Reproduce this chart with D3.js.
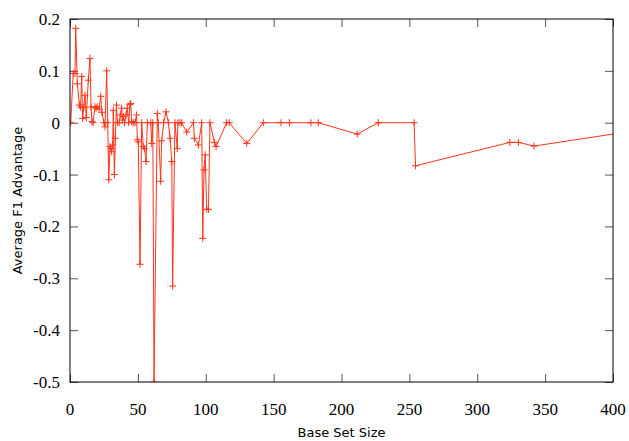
<!DOCTYPE html>
<html>
<head>
<meta charset="utf-8">
<script src="https://cdn.jsdelivr.net/npm/d3@7"></script>
<style>
  body { margin: 0; background: #fff; }
  svg text { font-family: "Liberation Serif", serif; }
</style>
</head>
<body>
<script>
// base set size vs average F1 advantage
var sizes = [0.5, 2.4, 3.7, 4.2, 5.4, 6.9, 7.8, 8.6, 9.3, 10.2, 11, 12, 13.5, 14.7, 15.5, 16.2, 17,
  18.4, 19.2, 20, 21.4, 22.6, 23.5, 25, 25.8, 27, 27.8, 28.5, 29.5, 30.2, 30.7, 31.4, 31.9, 32.7,
  33.4, 34.2, 35, 36.3, 37, 38, 38.6, 39.3, 40.2, 41.3, 42.2, 43.2, 44.2, 44.7, 45.4, 46.6, 47.9,
  49, 49.6, 50.3, 51.6, 52.8, 54, 55, 56, 57, 59.5, 60.2, 61, 61.9, 64.3, 65, 66.8, 67.5, 69, 70.7,
  72.5, 73.7, 75, 75.6, 77.3, 79, 79.5, 81, 82.2, 86, 91, 91.6, 94.6, 97, 97.8, 98.7, 99.6, 100.7,
  102, 103.1, 106.4, 107.6, 115.4, 117.3, 130.2, 142.4, 155.4, 161.6, 177.5, 182.9, 211.6, 227.1,
  253.5, 254.5, 324, 330.3, 341.8, 420];
var advantage = [0, 0.095, 0.095, 0.182, 0.075, 0.034, 0.03, 0.089, 0.008, 0.03, 0.053, 0.01, 0.082,
  0.124, 0.03, 0.002, 0, 0.031, 0.028, 0.031, 0.026, 0.051, 0.02, 0, -0.008, 0.1, 0, -0.11, -0.046,
  -0.05, -0.056, -0.043, 0.024, -0.1, -0.03, 0.034, 0, 0, 0.015, 0.028, 0.005, 0.012, 0, 0.015,
  0.028, 0, 0.035, 0.037, 0.002, 0, 0, 0.015, -0.033, -0.037, -0.273, 0, -0.046, -0.05, -0.075, 0,
  0, -0.04, 0, -0.5, 0.018, 0, -0.113, -0.035, 0, 0.021, 0, -0.03, -0.075, -0.315, 0, -0.05, 0, 0,
  0, -0.018, 0, -0.03, -0.043, 0, -0.223, -0.091, -0.062, -0.167, -0.167, 0, -0.038, -0.046, 0, 0,
  -0.04, 0, 0, 0, 0, 0, -0.022, 0, 0, -0.083, -0.038, -0.038, -0.045, -0.014];
var xTicks = [0, 50, 100, 150, 200, 250, 300, 350, 400];
var yTicks = [0.2, 0.1, 0, -0.1, -0.2, -0.3, -0.4, -0.5];
var yTickLabels = ["0.2", "0.1", "0", "-0.1", "-0.2", "-0.3", "-0.4", "-0.5"];

var data = sizes.map(function(s, i) { return {x: s, y: advantage[i]}; });

var width = 629, height = 441;
var margin = {top: 19, right: 16, bottom: 59, left: 70};
var plotW = width - margin.left - margin.right;
var plotH = height - margin.top - margin.bottom;
var tickLen = 8;
var red = "#ff3418";

var svg = d3.select("body").append("svg")
    .attr("width", width)
    .attr("height", height);

var g = svg.append("g")
    .attr("transform", "translate(" + margin.left + "," + margin.top + ")");

var x = d3.scaleLinear().domain([0, 400]).range([0, plotW]);
var y = d3.scaleLinear().domain([-0.5, 0.2]).range([plotH, 0]);

svg.append("defs").append("clipPath").attr("id", "clip")
  .append("rect").attr("width", plotW).attr("height", plotH);

// inward tick marks on all four sides, labels drawn separately
g.append("g")
    .attr("transform", "translate(0," + plotH + ")")
    .call(d3.axisBottom(x).tickValues(xTicks).tickSize(-tickLen).tickFormat(""));
g.append("g")
    .call(d3.axisTop(x).tickValues(xTicks).tickSize(-tickLen).tickFormat(""));
g.append("g")
    .call(d3.axisLeft(y).tickValues(yTicks).tickSize(-tickLen).tickFormat(""));
g.append("g")
    .attr("transform", "translate(" + plotW + ",0)")
    .call(d3.axisRight(y).tickValues(yTicks).tickSize(-tickLen).tickFormat(""));

g.selectAll(".domain").remove();
g.selectAll(".tick line").attr("stroke", "#555");

g.selectAll("text.xlab")
    .data(xTicks)
    .enter().append("text")
    .attr("class", "xlab")
    .attr("x", function(d) { return x(d); })
    .attr("y", plotH + 33)
    .attr("text-anchor", "middle")
    .attr("font-size", "17px")
    .text(function(d) { return d; });

g.selectAll("text.ylab")
    .data(yTicks)
    .enter().append("text")
    .attr("class", "ylab")
    .attr("x", -10)
    .attr("y", function(d) { return y(d) + 6; })
    .attr("text-anchor", "end")
    .attr("font-size", "17px")
    .text(function(d, i) { return yTickLabels[i]; });

var plot = g.append("g").attr("clip-path", "url(#clip)");

var line = d3.line()
    .x(function(d) { return x(d.x); })
    .y(function(d) { return y(d.y); });

plot.append("path")
    .datum(data)
    .attr("fill", "none")
    .attr("stroke", red)
    .attr("stroke-width", 1)
    .attr("d", line);

var s = 3.5;
plot.selectAll("path.pt")
    .data(data)
    .enter().append("path")
    .attr("class", "pt")
    .attr("stroke", red)
    .attr("stroke-width", 1)
    .attr("d", function(d) {
        var px = x(d.x), py = y(d.y);
        return "M" + (px - s) + "," + py + "H" + (px + s) + "M" + px + "," + (py - s) + "V" + (py + s);
    });

g.append("rect")
    .attr("width", plotW)
    .attr("height", plotH)
    .attr("fill", "none")
    .attr("stroke", "#000")
    .attr("stroke-width", 1);

svg.append("text")
    .attr("x", margin.left + plotW / 2)
    .attr("y", 437)
    .attr("text-anchor", "middle")
    .style("font-family", "'DejaVu Sans', sans-serif")
    .style("font-size", "13px")
    .text("Base Set Size");

svg.append("text")
    .attr("transform", "translate(22," + (margin.top + plotH / 2) + ") rotate(-90)")
    .attr("text-anchor", "middle")
    .style("font-family", "'DejaVu Sans', sans-serif")
    .style("font-size", "13px")
    .text("Average F1 Advantage");
</script>
</body>
</html>
